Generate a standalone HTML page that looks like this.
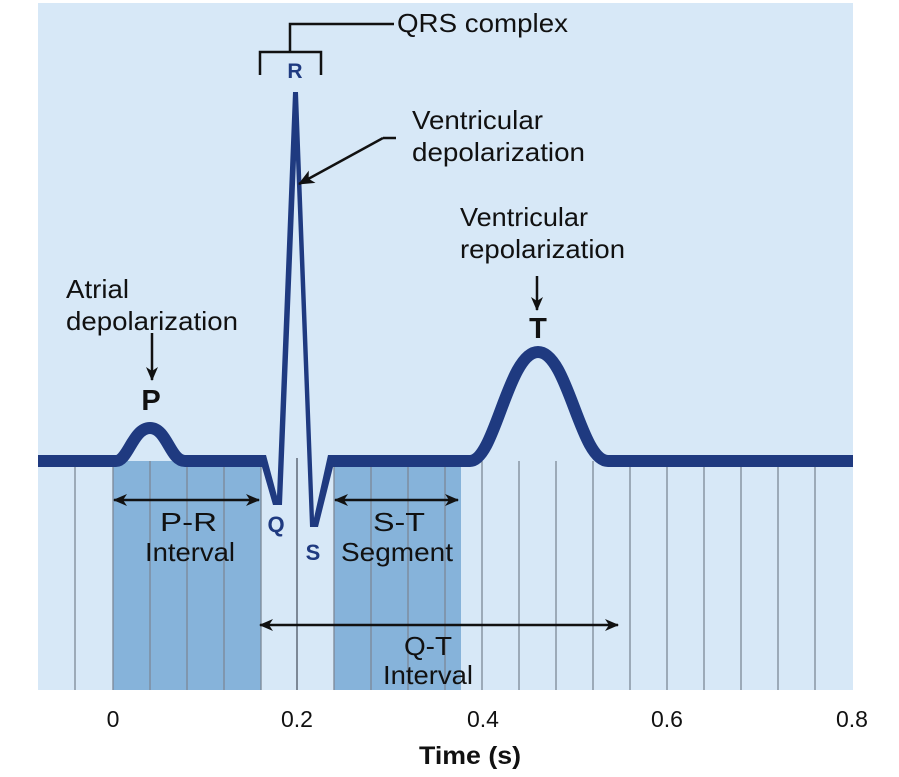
<!DOCTYPE html>
<html><head><meta charset="utf-8"><style>
html,body{margin:0;padding:0;background:#fff;}
svg{display:block;font-family:"Liberation Sans",sans-serif;}
</style></head><body>
<svg width="899" height="777" viewBox="0 0 899 777" xmlns="http://www.w3.org/2000/svg">
<defs>
<marker id="ah" markerWidth="14" markerHeight="12" refX="13" refY="6" orient="auto-start-reverse" markerUnits="userSpaceOnUse"><path d="M0,0 L14,6 L0,12 L4,6 z" fill="#111"/></marker>
<marker id="ah2" markerWidth="16" markerHeight="14" refX="15" refY="7" orient="auto-start-reverse" markerUnits="userSpaceOnUse"><path d="M0,0 L16,7 L0,14 L4,7 z" fill="#111"/></marker>
</defs>
<rect x="38" y="3" width="815" height="687" fill="#d7e8f7"/>
<rect x="113" y="461" width="148" height="229" fill="#86b3da"/>
<rect x="334" y="461" width="127" height="229" fill="#86b3da"/>
<g stroke="#7c8896" stroke-width="1.3">
<line x1="75" y1="461" x2="75" y2="690"/>
<line x1="113" y1="461" x2="113" y2="690"/>
<line x1="150" y1="461" x2="150" y2="690"/>
<line x1="187" y1="461" x2="187" y2="690"/>
<line x1="224" y1="461" x2="224" y2="690"/>
<line x1="261" y1="461" x2="261" y2="690"/>
<line x1="297" y1="458" x2="297" y2="690" stroke-width="2"/>
<line x1="334" y1="461" x2="334" y2="690"/>
<line x1="371" y1="461" x2="371" y2="690"/>
<line x1="408" y1="461" x2="408" y2="690"/>
<line x1="445" y1="461" x2="445" y2="690"/>
<line x1="482" y1="461" x2="482" y2="690"/>
<line x1="519" y1="461" x2="519" y2="690"/>
<line x1="556" y1="461" x2="556" y2="690"/>
<line x1="593" y1="461" x2="593" y2="690"/>
<line x1="630" y1="461" x2="630" y2="690"/>
<line x1="667" y1="461" x2="667" y2="690"/>
<line x1="704" y1="461" x2="704" y2="690"/>
<line x1="741" y1="461" x2="741" y2="690"/>
<line x1="778" y1="461" x2="778" y2="690"/>
<line x1="815" y1="461" x2="815" y2="690"/>
</g>
<path d="M38,461 L116,461 C128,461 133,428 150,428 C167,428 170,461 185,461 L262,461" fill="none" stroke="#1f3a80" stroke-width="12"/>
<path d="M330,461 L470,461 C495,461 508,352 538,352 C568,352 580,461 608,461 L853,461" fill="none" stroke="#1f3a80" stroke-width="12"/>
<path d="M258,455 L266,455 L277,496 L293,92 L298,92 L314,518 L328,455 L338,455 L338,467 L333,467 L318,527 L310,527 L296,160 L282,505 L273,505 L262,467 L258,467 z" fill="#1f3a80"/>
<g stroke="#111" stroke-width="2.5" fill="none">
<line x1="114" y1="500" x2="259" y2="500" marker-start="url(#ah)" marker-end="url(#ah)"/>
<line x1="335" y1="500" x2="458" y2="500" marker-start="url(#ah)" marker-end="url(#ah)"/>
<line x1="260" y1="625" x2="618" y2="625" marker-start="url(#ah)" marker-end="url(#ah)"/>
<line x1="152" y1="333" x2="152" y2="380" marker-end="url(#ah)"/>
<line x1="537" y1="276" x2="537" y2="310" marker-end="url(#ah)"/>
<line x1="396" y1="138" x2="383" y2="138" />
<line x1="383" y1="138" x2="299" y2="184" marker-end="url(#ah2)"/>
</g>
<g stroke="#111" stroke-width="2.5" fill="none">
<path d="M260,75 L260,52 L321,52 L321,75"/>
<path d="M290,52 L290,24 L394,24"/>
</g>
<g fill="#111" font-size="26">
<text x="397" y="32" textLength="171" lengthAdjust="spacingAndGlyphs">QRS complex</text>
<text x="412" y="129" textLength="131" lengthAdjust="spacingAndGlyphs">Ventricular</text>
<text x="412" y="161" textLength="173" lengthAdjust="spacingAndGlyphs">depolarization</text>
<text x="460" y="226" textLength="128" lengthAdjust="spacingAndGlyphs">Ventricular</text>
<text x="460" y="258" textLength="165" lengthAdjust="spacingAndGlyphs">repolarization</text>
<text x="66" y="298" textLength="63" lengthAdjust="spacingAndGlyphs">Atrial</text>
<text x="66" y="330" textLength="172" lengthAdjust="spacingAndGlyphs">depolarization</text>
<text x="160" y="531" textLength="57" lengthAdjust="spacingAndGlyphs">P-R</text>
<text x="145" y="561" textLength="90" lengthAdjust="spacingAndGlyphs">Interval</text>
<text x="373" y="531" textLength="52" lengthAdjust="spacingAndGlyphs">S-T</text>
<text x="341" y="561" textLength="112" lengthAdjust="spacingAndGlyphs">Segment</text>
<text x="404" y="655" textLength="48" lengthAdjust="spacingAndGlyphs">Q-T</text>
<text x="383" y="684" textLength="90" lengthAdjust="spacingAndGlyphs">Interval</text>
</g>
<g font-weight="bold">
<text x="151" y="410" font-size="29" text-anchor="middle" fill="#111">P</text>
<text x="538" y="338" font-size="29" text-anchor="middle" fill="#111">T</text>
<text x="295" y="78" font-size="21" text-anchor="middle" fill="#1f3a80">R</text>
<text x="276" y="532" font-size="22" text-anchor="middle" fill="#1f3a80">Q</text>
<text x="313" y="560" font-size="22" text-anchor="middle" fill="#1f3a80">S</text>
</g>
<g fill="#111" font-size="23" text-anchor="middle">
<text x="113" y="727">0</text>
<text x="297" y="727">0.2</text>
<text x="483" y="727">0.4</text>
<text x="667" y="727">0.6</text>
<text x="852" y="727">0.8</text>
</g>
<text x="470" y="764" font-size="25" font-weight="bold" text-anchor="middle" fill="#111" textLength="102" lengthAdjust="spacingAndGlyphs">Time (s)</text>
</svg>
</body></html>
